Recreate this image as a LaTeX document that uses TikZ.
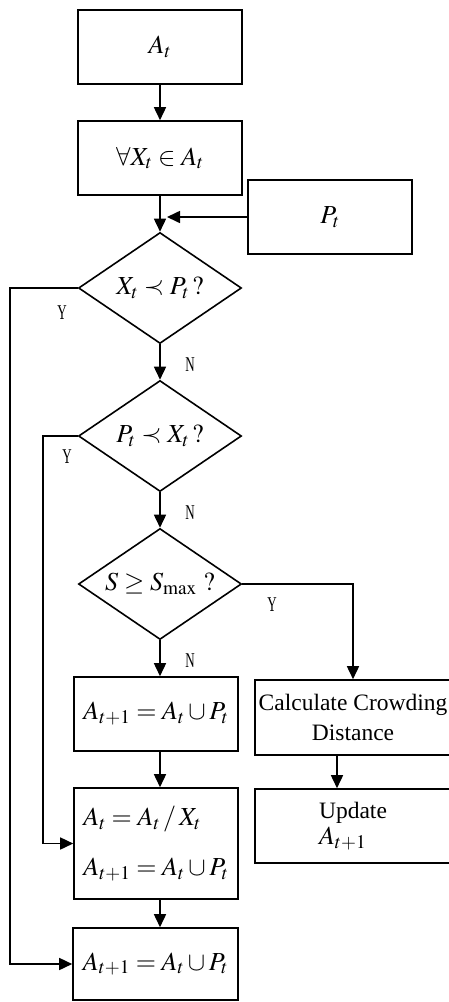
\documentclass[tikz,border=0pt]{standalone}
\usepackage{mathptmx}
\usepackage{fontspec}
\setmainfont{Liberation Serif}
\usepackage{graphicx}
\usetikzlibrary{shapes.geometric,arrows.meta}
\tikzset{
  box/.style={draw, line width=1.6pt, minimum width=164pt, minimum height=74pt, inner sep=0pt, font=\fontsize{26}{32}\selectfont},
  dia/.style={draw, diamond, aspect=1.47, line width=1.6pt, minimum width=163pt, minimum height=111pt, inner sep=0pt, font=\fontsize{26}{32}\selectfont},
  conn/.style={line width=1.6pt, -{Triangle[length=13pt,width=12pt]}},
  yn/.style={font=\fontsize{21}{21}\selectfont, inner sep=0pt},
  txt/.style={font=\fontsize{23.5}{30}\selectfont}
}
\newcommand{\cond}[1]{\scalebox{0.62}[1]{#1}}
\begin{document}
\begin{tikzpicture}[x=1pt,y=-1pt]
\clip (0,0) rectangle (449,1002);
% nodes
\node[box] (a) at (160,47) {$A_t$};
\node[box] (f) at (160,158) {$\forall X_t \in A_t$};
\node[box] (p) at (330,217) {$P_t$};
\node[dia] (d1) at (160,288) {$X_t \prec P_t\,?$};
\node[dia] (d2) at (160,436) {$P_t \prec X_t\,?$};
\node[dia] (d3) at (160,584) {$S \geq S_{\max}\ ?$};
\node[box] (u1) at (156,714) {$A_{t+1} = A_t \cup P_t$};
\node[box, minimum height=111pt, align=left] (b2) at (156,843.5) {$A_t = A_t \,/\, X_t$\\[18pt]$A_{t+1} = A_t \cup P_t$};
\node[box, minimum width=165pt, minimum height=72pt] (b3) at (155.5,964) {$A_{t+1} = A_t \cup P_t$};
\node[box, txt, minimum width=196pt, minimum height=75pt, align=center] (cd) at (353,717.5) {Calculate Crowding\\Distance};
\node[box, txt, minimum width=196pt, minimum height=74pt, align=left] (up) at (353,826) {Update\\[-4pt]{\fontsize{26}{30}\selectfont$A_{t+1}$}};
% labels
\node[yn] (y1) at (62,313) {\cond{Y}};
\node[yn] (n1) at (190,365) {\cond{N}};
\node[yn] (y2) at (67,457) {\cond{Y}};
\node[yn] (n2) at (190,513) {\cond{N}};
\node[yn] (y3) at (272,605) {\cond{Y}};
\node[yn] (n3) at (190,661) {\cond{N}};
% connectors
\coordinate (pe) at (167,217);
\coordinate (yl1) at (10,288);
\coordinate (yl2) at (43,436);
\draw[conn] (a.south) -- (f.north);
\draw[conn] (f.south) -- (d1.north);
\draw[conn] (p.west) -- (pe);
\draw[conn] (d1.south) -- (d2.north);
\draw[conn] (d2.south) -- (d3.north);
\draw[conn] (d3.south) -- (d3.south |- u1.north);
\draw[conn] (u1.south -| d3.south) -- (b2.north -| d3.south);
\draw[conn] (b2.south -| d3.south) -- (b3.north -| d3.south);
\draw[conn] (d3.east) -| (cd.north);
\draw[conn] ([xshift=-16pt]cd.south) -- ([xshift=-16pt]up.north);
\draw[conn] (d1.west) -- (yl1) |- (b3.west);
\draw[conn] (d2.west) -- (yl2) |- (b2.west);
\end{tikzpicture}
\end{document}
